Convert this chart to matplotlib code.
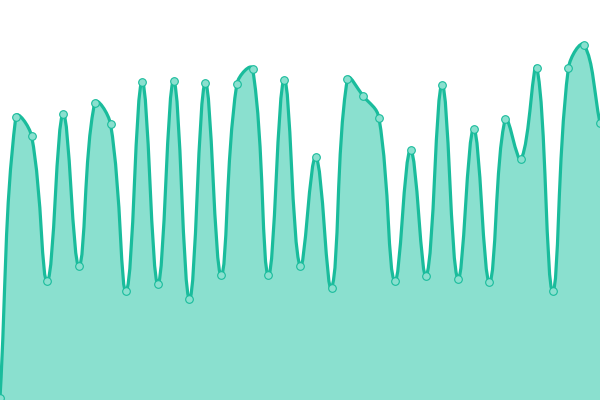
import numpy as np
import matplotlib
matplotlib.use('Agg')
import matplotlib.pyplot as plt
from matplotlib.path import Path
from matplotlib.patches import PathPatch

values = [2, 283, 264, 119, 286, 134, 297, 276, 109, 318, 116, 319, 101,
          317, 125, 316, 331, 125, 320, 134, 243, 112, 321, 304, 282, 119,
          250, 124, 315, 121, 271, 118, 281, 241, 332, 109, 332, 355, 277]
labels = list(range(len(values)))

LINE = '#1abc9c'
FILL = '#8ae0cf'
TENSION = 0.4


def spline_controls(px):
    """Chart.js style bezier control points, in pixel space"""
    n = len(px)
    prev_cp = np.zeros_like(px)
    next_cp = np.zeros_like(px)
    for i in range(n):
        p1 = px[i]
        p0 = px[i - 1] if i > 0 else p1
        p2 = px[i + 1] if i < n - 1 else p1
        d01 = np.hypot(*(p1 - p0))
        d12 = np.hypot(*(p2 - p1))
        tot = d01 + d12
        s01 = d01 / tot if tot else 0
        s12 = d12 / tot if tot else 0
        fa = TENSION * s01
        fb = TENSION * s12
        prev_cp[i] = p1 - fa * (p2 - p0)
        next_cp[i] = p1 + fb * (p2 - p0)
    return prev_cp, next_cp


def main():
    fig = plt.figure(figsize=(6, 4), dpi=100)
    ax = fig.add_axes([0, 0, 1, 1])
    ax.set_xlim(0, len(values) - 1)
    ax.set_ylim(0, 400)
    ax.axis('off')

    x = np.array(labels, dtype=float)
    y = np.array(values, dtype=float)
    px = ax.transData.transform(np.column_stack([x, y]))
    prev_cp, next_cp = spline_controls(px)
    # keep control points inside the chart area
    x0, y0 = ax.transData.transform((0, 0))
    x1, y1 = ax.transData.transform((len(values) - 1, 400))
    for cp in (prev_cp, next_cp):
        cp[:, 0] = np.clip(cp[:, 0], x0, x1)
        cp[:, 1] = np.clip(cp[:, 1], y0, y1)
    inv = ax.transData.inverted()
    prev_cp = inv.transform(prev_cp)
    next_cp = inv.transform(next_cp)

    verts = [(x[0], y[0])]
    codes = [Path.MOVETO]
    for i in range(len(x) - 1):
        verts += [tuple(next_cp[i]), tuple(prev_cp[i + 1]), (x[i + 1], y[i + 1])]
        codes += [Path.CURVE4] * 3

    fill_verts = verts + [(x[-1], 0), (x[0], 0), (x[0], y[0])]
    fill_codes = codes + [Path.LINETO, Path.LINETO, Path.CLOSEPOLY]
    ax.add_patch(PathPatch(Path(fill_verts, fill_codes), facecolor=FILL,
                           edgecolor='none'))
    ax.add_patch(PathPatch(Path(verts, codes), facecolor='none',
                           edgecolor=LINE, lw=2.3, capstyle='round',
                           joinstyle='round'))
    ax.plot(x, y, 'o', ms=5.5, mfc=FILL, mec=LINE, mew=0.8, zorder=3)

    plt.savefig('out.png', dpi=100)


if __name__ == "__main__":
    main()
